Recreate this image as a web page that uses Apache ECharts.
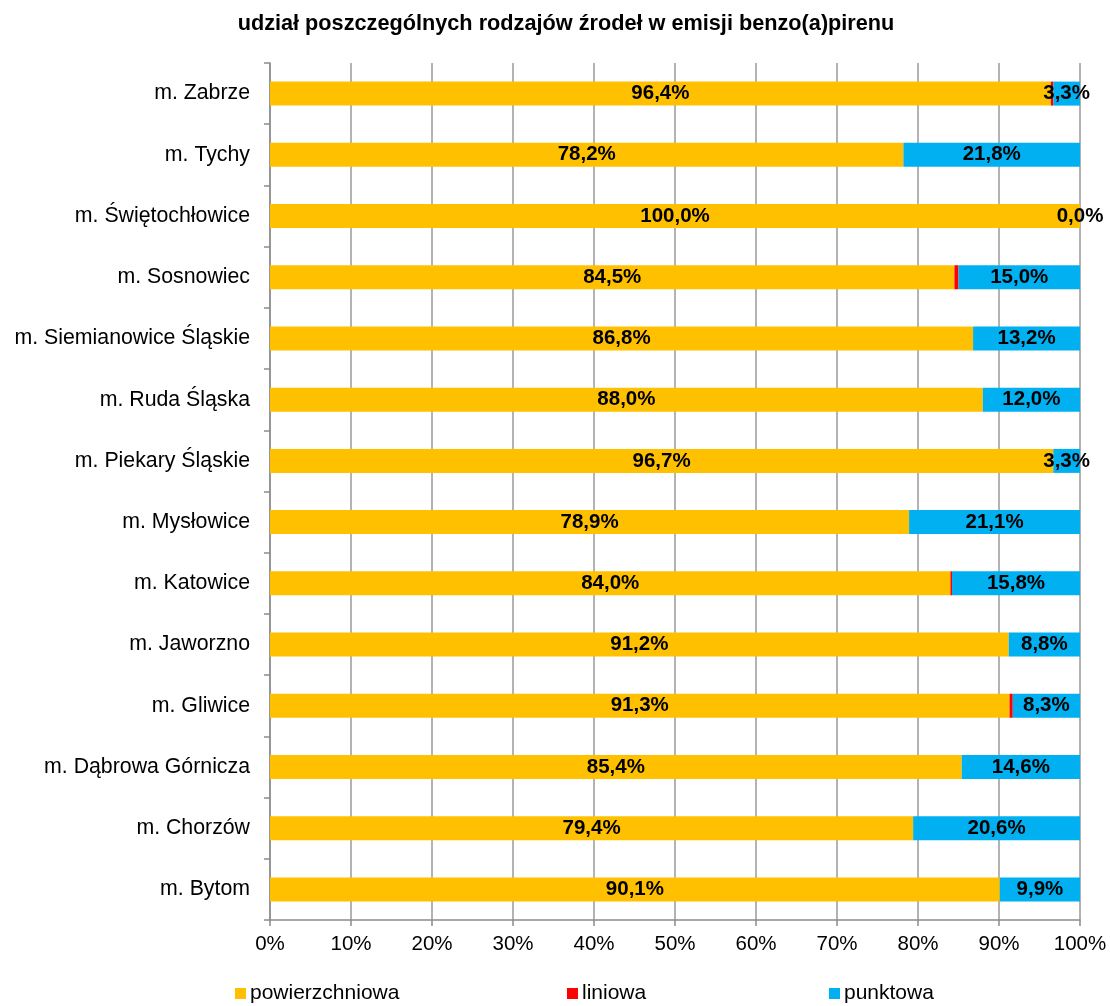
<!DOCTYPE html>
<html>
<head>
<meta charset="utf-8">
<script src="https://cdn.jsdelivr.net/npm/echarts@6/dist/echarts.min.js"></script>
<style>
html,body{margin:0;padding:0;background:#fff;}
#chart{width:1110px;height:1006px;}
</style>
</head>
<body>
<div id="chart"></div>
<script>
var categories = ['m. Bytom','m. Chorzów','m. Dąbrowa Górnicza','m. Gliwice','m. Jaworzno','m. Katowice','m. Mysłowice','m. Piekary Śląskie','m. Ruda Śląska','m. Siemianowice Śląskie','m. Sosnowiec','m. Świętochłowice','m. Tychy','m. Zabrze'];
var powierzchniowa = [90.1, 79.4, 85.4, 91.3, 91.2, 84.0, 78.9, 96.7, 88.0, 86.8, 84.5, 100.0, 78.2, 96.4];
var liniowa = [0, 0, 0, 0.4, 0, 0.2, 0, 0, 0, 0, 0.5, 0, 0, 0.3];
var punktowa = [9.9, 20.6, 14.6, 8.3, 8.8, 15.8, 21.1, 3.3, 12.0, 13.2, 15.0, 0.0, 21.8, 3.3];
var xTicks = [0, 10, 20, 30, 40, 50, 60, 70, 80, 90, 100];

var FONT = '"Liberation Sans", Arial, sans-serif';
var chart = echarts.init(document.getElementById('chart'));
function fmt(p){ return p.value.toFixed(1).replace('.', ',') + '%'; }
var lbl = {show:true, position:'inside', formatter:fmt, color:'#000', fontWeight:'bold', fontSize:20.5, fontFamily:FONT};
var legText = {fontSize:21, color:'#000', fontFamily:FONT, padding:[0,0,0,-1]};

chart.setOption({
  animation:false,
  textStyle:{fontFamily:FONT},
  title:{
    text:'udział poszczególnych rodzajów źrodeł w emisji benzo(a)pirenu',
    left:561, top:8, textAlign:'center',
    textStyle:{fontSize:21.7, fontWeight:'bold', color:'#000', fontFamily:FONT}
  },
  legend:[
    {data:['powierzchniowa'], left:235, top:983, padding:0, itemWidth:11, itemHeight:11, icon:'rect', textStyle:legText},
    {data:['liniowa'], left:567, top:983, padding:0, itemWidth:11, itemHeight:11, icon:'rect', textStyle:legText},
    {data:['punktowa'], left:829, top:983, padding:0, itemWidth:11, itemHeight:11, icon:'rect', textStyle:legText}
  ],
  grid:{left:270, right:30, top:63, bottom:86, containLabel:false},
  xAxis:{
    type:'value', min:xTicks[0], max:xTicks[xTicks.length-1], interval:10,
    axisLine:{show:true, lineStyle:{color:'#8c8c8c', width:1.5}},
    axisTick:{show:true, length:6, lineStyle:{color:'#8c8c8c', width:1.5}},
    splitLine:{show:true, lineStyle:{color:'#9a9a9a', width:1.5}},
    axisLabel:{formatter:'{value}%', fontSize:20.5, color:'#000', margin:14, fontFamily:FONT}
  },
  yAxis:{
    type:'category', data:categories,
    axisLine:{show:true, lineStyle:{color:'#8c8c8c', width:1.5}},
    axisTick:{show:true, length:6, interval:0, alignWithLabel:false, lineStyle:{color:'#8c8c8c', width:1.5}},
    axisLabel:{fontSize:21.3, color:'#000', margin:20, fontFamily:FONT, interval:0}
  },
  series:[
    {name:'powierzchniowa', type:'bar', stack:'s', data:powierzchniowa, barWidth:24, itemStyle:{color:'#FFC000'}, label:lbl},
    {name:'liniowa', type:'bar', stack:'s', data:liniowa, barWidth:24, itemStyle:{color:'#FF0000'}, label:{show:false}},
    {name:'punktowa', type:'bar', stack:'s', data:punktowa, barWidth:24, itemStyle:{color:'#00B0F0'}, label:lbl}
  ]
});
</script>
</body>
</html>
